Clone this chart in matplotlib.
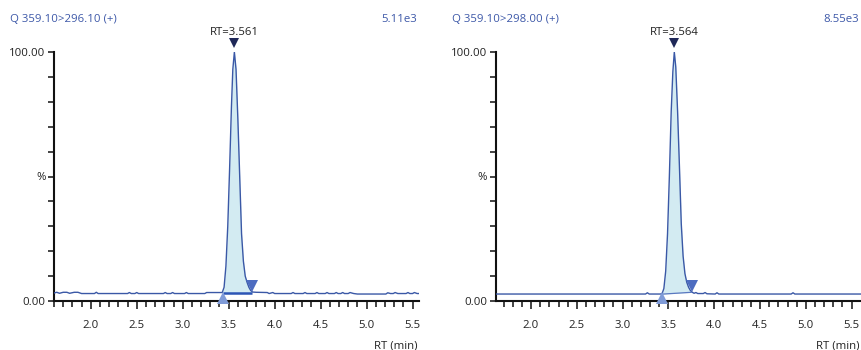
import matplotlib
matplotlib.use("Agg")
import matplotlib.pyplot as plt
from matplotlib.ticker import MultipleLocator

plt.rcParams['font.family'] = ['Open Sans', 'DejaVu Sans']

# ---------------- data ----------------
titles = ["Q 359.10>296.10 (+)", "Q 359.10>298.00 (+)"]
scales = ["5.11e3", "8.55e3"]
rt_labels = ["RT=3.561", "RT=3.564"]
rt_values = [3.561, 3.564]
peak_start = [3.434, 3.427]
peak_end = [3.752, 3.755]
int_base_start = [3.3, 2.75]
int_base_end = [3.3, 3.5]
x_ranges = [(1.6, 5.568), (1.614, 5.599)]
x_tick_labels = ["2.0", "2.5", "3.0", "3.5", "4.0", "4.5", "5.0", "5.5"]
x_tick_values = [2.0, 2.5, 3.0, 3.5, 4.0, 4.5, 5.0, 5.5]
y_tick_values = [0, 10, 20, 30, 40, 50, 60, 70, 80, 90, 100]
y_tick_labels = ["0.00", "", "", "", "", "%", "", "", "", "", "100.00"]

left_t = [1.60, 1.63, 1.66, 1.70, 1.74, 1.77, 1.82, 1.86, 1.90, 2.04, 2.06, 2.08,
          2.40, 2.42, 2.44, 2.48, 2.50, 2.52, 2.79, 2.81, 2.83, 2.87, 2.89, 2.91,
          3.02, 3.04, 3.06, 3.24, 3.26, 3.40, 3.43, 3.45, 3.47, 3.49, 3.51, 3.53,
          3.545, 3.562, 3.58, 3.60, 3.62, 3.64, 3.66, 3.68, 3.70, 3.72, 3.74, 3.76,
          3.80, 3.92, 3.94, 3.98, 4.00, 4.18, 4.20, 4.22, 4.31, 4.33, 4.35, 4.44,
          4.46, 4.48, 4.55, 4.57, 4.59, 4.65, 4.67, 4.69, 4.72, 4.74, 4.76, 4.80,
          4.82, 4.86, 4.90, 5.21, 5.23, 5.26, 5.29, 5.31, 5.34, 5.43, 5.45, 5.47,
          5.50, 5.52, 5.55, 5.568]
left_y = [3.2, 3.5, 3.1, 3.5, 3.5, 3.1, 3.5, 3.5, 3.0, 3.0, 3.5, 3.0,
          3.0, 3.4, 3.0, 3.0, 3.4, 3.0, 3.0, 3.4, 3.0, 3.0, 3.4, 3.0,
          3.0, 3.4, 3.0, 3.0, 3.4, 3.4, 3.4, 5.5, 14.0, 30.0, 53.0, 78.0,
          93.0, 100.0, 93.0, 73.0, 50.0, 27.0, 16.0, 10.0, 7.5, 5.5, 4.2, 3.6,
          3.5, 3.4, 3.0, 3.4, 3.0, 3.0, 3.4, 3.0, 3.0, 3.4, 3.0, 3.0,
          3.4, 3.0, 3.0, 3.4, 3.0, 3.0, 3.4, 3.0, 3.0, 3.4, 3.0, 3.0,
          3.4, 3.0, 2.8, 2.8, 3.3, 3.0, 3.0, 3.4, 3.0, 3.0, 3.4, 3.0,
          3.0, 3.4, 3.0, 3.0]

right_t = [1.614, 3.25, 3.27, 3.29, 3.41, 3.43, 3.45, 3.47, 3.49, 3.51, 3.53,
           3.548, 3.564, 3.58, 3.60, 3.62, 3.64, 3.66, 3.68, 3.70, 3.72, 3.74,
           3.76, 3.78, 3.80, 3.82, 3.88, 3.90, 3.92, 4.01, 4.03, 4.05, 4.84,
           4.86, 4.88, 5.599]
right_y = [2.8, 2.8, 3.3, 2.8, 2.8, 2.9, 5.0, 12.0, 27.0, 50.0, 76.0,
           92.0, 100.0, 94.0, 76.0, 54.0, 31.0, 18.0, 11.0, 7.5, 5.5, 4.2,
           3.5, 3.1, 3.4, 3.0, 3.0, 3.4, 2.9, 2.8, 3.3, 2.8, 2.8,
           3.3, 2.8, 2.8]

traces = [(left_t, left_y), (right_t, right_y)]

# ---------------- layout ----------------
W, H = 861, 350
fig = plt.figure(figsize=(W / 100, H / 100), dpi=100)
axes_px = [(54, 364.8), (495.7, 365.0)]
bottom_px, top_px = 301, 52

TRACE = "#3a58a6"
FILL = "#d3ebf2"
TITLE_C = "#3d58a8"
TEXT_C = "#222222"
FS = 8.2

for i in range(2):
    x0, w = axes_px[i]
    ax = fig.add_axes([x0 / W, (H - bottom_px) / H, w / W, (bottom_px - top_px) / H])
    t, y = traces[i]
    s, e = peak_start[i], peak_end[i]
    b0, b1 = int_base_start[i], int_base_end[i]

    # fill between trace and integration baseline
    ft = [s] + [tt for tt in t if s < tt < e] + [e]
    fy_top = []
    for tt in ft:
        for k in range(len(t) - 1):
            if t[k] <= tt <= t[k + 1]:
                fr = (tt - t[k]) / (t[k + 1] - t[k])
                fy_top.append(y[k] + fr * (y[k + 1] - y[k]))
                break
    fy_bot = [b0 + (tt - s) / (e - s) * (b1 - b0) for tt in ft]
    ax.fill_between(ft, fy_bot, fy_top, color=FILL, lw=0, zorder=1)
    ax.plot(t, y, color=TRACE, lw=1.0, zorder=3)
    ax.plot([s, e], [b0, b1], color="#2c55b5" if i == 0 else "#5a78c0",
            lw=1.8 if i == 0 else 0.9, zorder=3, solid_capstyle="butt")

    # markers
    ax.plot([rt_values[i]], [103.6], marker="v", ms=7, color="#1f2858",
            clip_on=False, zorder=5, mew=0)
    ax.plot([s], [1.3], marker="^", ms=8, color="#7f9bd8", clip_on=False,
            zorder=5, mew=0)
    ax.plot([e], [6.0], marker="v", ms=8.5, color="#4d6cc0", clip_on=False,
            zorder=5, mew=0)
    ax.annotate(rt_labels[i], (rt_values[i], 100), xytext=(0, 14),
                textcoords="offset points", ha="center", va="center",
                fontsize=FS, color=TEXT_C)

    ax.set_xlim(*x_ranges[i])
    ax.set_ylim(0, 100)
    for sp in ["top", "right"]:
        ax.spines[sp].set_visible(False)
    for sp in ["left", "bottom"]:
        ax.spines[sp].set_linewidth(1.5)
        ax.spines[sp].set_color("#111111")
    ax.set_xticks(x_tick_values)
    ax.set_xticklabels(x_tick_labels)
    ax.xaxis.set_minor_locator(MultipleLocator(0.1))
    ax.set_yticks(y_tick_values)
    ax.set_yticklabels(y_tick_labels)
    ax.tick_params(axis="x", which="major", length=5.5, width=1.1, pad=8.5,
                   labelsize=FS, colors="#111111", labelcolor=TEXT_C)
    ax.tick_params(axis="x", which="minor", length=4, width=1.1, color="#111111")
    ax.tick_params(axis="y", which="major", length=4, width=1.1, pad=2,
                   labelsize=FS, colors="#111111", labelcolor=TEXT_C)
    ax.patch.set_visible(False)

    right_px = x0 + w
    fig.text((x0 - 44) / W, 1 - 19 / H, titles[i],
             ha="left", va="center", fontsize=FS, color=TITLE_C)
    fig.text((right_px - 1.5) / W, 1 - 19 / H, scales[i], ha="right",
             va="center", fontsize=FS, color=TITLE_C)
    fig.text((right_px - 1) / W, 1 - 346 / H, "RT (min)", ha="right",
             va="center", fontsize=FS, color=TEXT_C)

fig.savefig("out.png", dpi=100)
